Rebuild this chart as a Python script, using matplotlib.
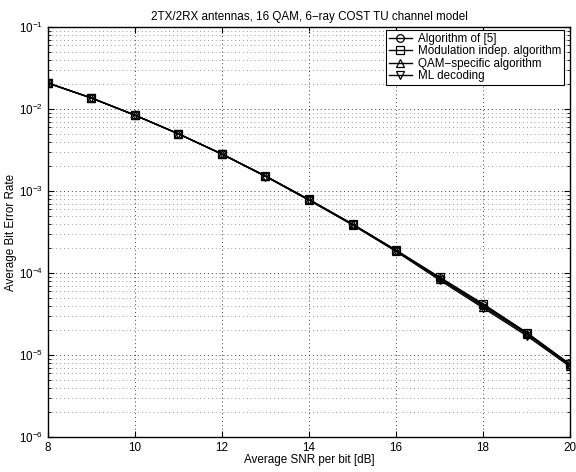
import matplotlib
matplotlib.use("Agg")
import matplotlib.pyplot as plt
from matplotlib.ticker import LogLocator, NullFormatter

plt.rcParams['font.family'] = ['Liberation Sans', 'DejaVu Sans']
plt.rcParams['mathtext.fontset'] = 'custom'
plt.rcParams['mathtext.rm'] = 'Liberation Sans'

# SNR per bit [dB]
snr = [8, 9, 10, 11, 12, 13, 14, 15, 16, 17, 18, 19, 20]

# BER curves
ber_alg5 = [2.07e-2, 1.36e-2, 8.4e-3, 4.97e-3, 2.82e-3, 1.52e-3, 7.8e-4,
            3.93e-4, 1.88e-4, 8.7e-5, 4.05e-5, 1.86e-5, 7.6e-6]
ber_modindep = [2.07e-2, 1.36e-2, 8.4e-3, 4.97e-3, 2.82e-3, 1.52e-3, 7.9e-4,
                3.95e-4, 1.9e-4, 8.9e-5, 4.2e-5, 1.88e-5, 7.7e-6]
ber_qam = [2.07e-2, 1.36e-2, 8.4e-3, 4.97e-3, 2.82e-3, 1.52e-3, 7.8e-4,
           3.9e-4, 1.87e-4, 8.5e-5, 3.9e-5, 1.8e-5, 7.4e-6]
ber_ml = [2.07e-2, 1.36e-2, 8.4e-3, 4.97e-3, 2.8e-3, 1.5e-3, 7.7e-4,
          3.85e-4, 1.83e-4, 8.2e-5, 3.75e-5, 1.72e-5, 7.2e-6]

labels = ["Algorithm of [5]", "Modulation indep. algorithm",
          "QAM\u2212specific algorithm", "ML decoding"]
series = [ber_alg5, ber_modindep, ber_qam, ber_ml]
markers = ["o", "s", "^", "v"]

fs = 8.4

fig = plt.figure(figsize=(5.76, 4.72), dpi=100)
ax = fig.add_axes([0.083, 0.074, 0.907, 0.869])

for vals, lab, mk in zip(series, labels, markers):
    ax.semilogy(snr, vals, color="black", linewidth=1.0, marker=mk,
                markersize=5.5, markerfacecolor="none", markeredgecolor="black",
                markeredgewidth=0.9, label=lab)

ax.set_xlim(8, 20)
ax.set_ylim(1e-6, 1e-1)
ax.set_xticks(range(8, 21, 2))
ax.yaxis.set_major_locator(LogLocator(base=10, numticks=10))
ax.yaxis.set_minor_locator(LogLocator(base=10, subs=range(2, 10), numticks=100))
ax.yaxis.set_minor_formatter(NullFormatter())

ax.grid(True, which="major", linestyle=(0, (1, 3)), color="0.25", linewidth=0.7)
ax.grid(True, which="minor", axis="y", linestyle=(0, (1, 3)), color="0.6", linewidth=0.7)

ax.tick_params(which="both", direction="in", top=True, right=True, labelsize=fs)
ax.tick_params(which="major", length=4, width=0.8)
ax.tick_params(which="minor", length=2, width=0.6)
for sp in ax.spines.values():
    sp.set_linewidth(1.0)

ax.set_title("2TX/2RX antennas, 16 QAM, 6\u2212ray COST TU channel model", fontsize=fs, pad=5)
ax.set_xlabel("Average SNR per bit [dB]", fontsize=fs, labelpad=0)
ax.set_ylabel("Average Bit Error Rate", fontsize=fs, labelpad=1)

leg = ax.legend(loc="upper right", bbox_to_anchor=(0.9885, 0.993), fontsize=fs,
                fancybox=False, framealpha=1, edgecolor="black", borderpad=0.25,
                labelspacing=0.05, handlelength=2.0, handletextpad=0.5,
                borderaxespad=0)
leg.get_frame().set_linewidth(0.8)

fig.savefig("out.png", dpi=100)
